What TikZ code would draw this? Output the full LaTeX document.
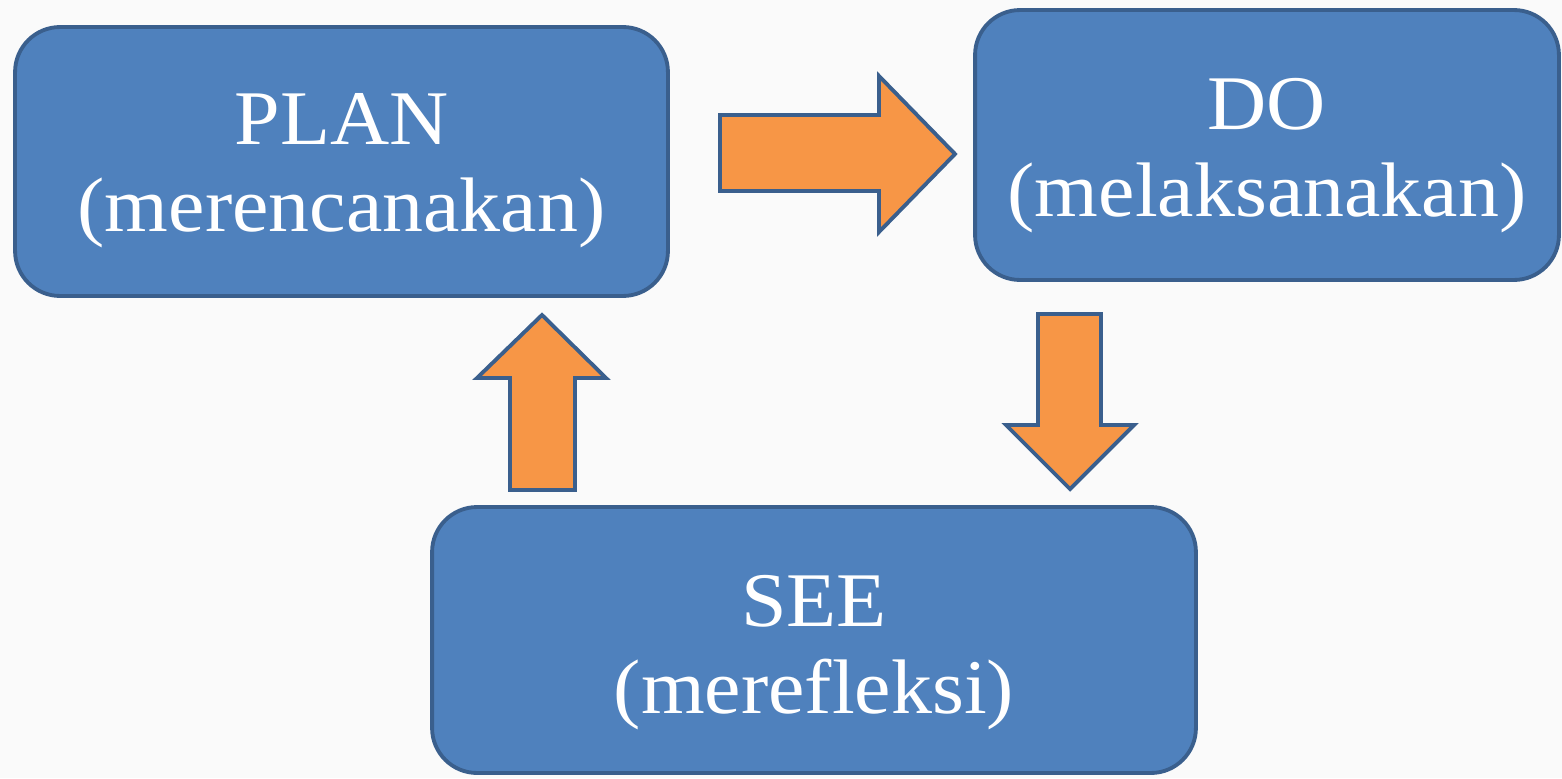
\documentclass[tikz,border=0pt]{standalone}
\usepackage{fontspec}
\setmainfont[FakeStretch=1.06]{Liberation Serif}
\definecolor{boxblue}{HTML}{4F81BD}
\definecolor{edgeblue}{HTML}{3A5F8D}
\definecolor{arroworange}{HTML}{F79646}
\definecolor{paper}{HTML}{FAFAFA}
\tikzset{
  stagebox/.style={draw=edgeblue, fill=boxblue, line width=2.2pt, rounded corners=0.9cm, inner sep=0pt},
  stagetext/.style={text=white, align=center, inner sep=0pt, font=\fontsize{44}{49.5}\selectfont},
  blockarrow/.style={draw=edgeblue, fill=arroworange, line width=2.2pt, line join=miter}
}
\begin{document}
\begin{tikzpicture}[x=0.02cm, y=-0.02cm]
  \fill[paper] (0,0) rectangle (1562,778);
  \useasboundingbox (0,0) rectangle (1562,778);

  \node[stagebox, minimum width=13.06cm, minimum height=5.38cm] (plan) at (341.5,161.5) {};
  \node[stagebox, minimum width=11.68cm, minimum height=5.4cm] (do) at (1267,145) {};
  \node[stagebox, minimum width=15.28cm, minimum height=5.32cm] (see) at (814,640) {};

  \node[stagetext] (plantext) at ([yshift=-0.19cm]plan.center) {PLAN\\(merencanakan)};
  \node[stagetext] (dotext) at ([yshift=-0.22cm]do.center) {DO\\(melaksanakan)};
  \node[stagetext] (seetext) at ([yshift=-0.26cm]see.center) {SEE\\(merefleksi)};

  \filldraw[blockarrow] (720,115) -- (879,115) -- (879,76) -- (955,154) -- (879,232) -- (879,191) -- (720,191) -- cycle;
  \filldraw[blockarrow] (1038,314) -- (1101,314) -- (1101,425) -- (1134,425) -- (1070,489) -- (1006,425) -- (1038,425) -- cycle;
  \filldraw[blockarrow] (510,490) -- (510,378) -- (477,378) -- (542,315) -- (606,378) -- (575,378) -- (575,490) -- cycle;
\end{tikzpicture}
\end{document}
